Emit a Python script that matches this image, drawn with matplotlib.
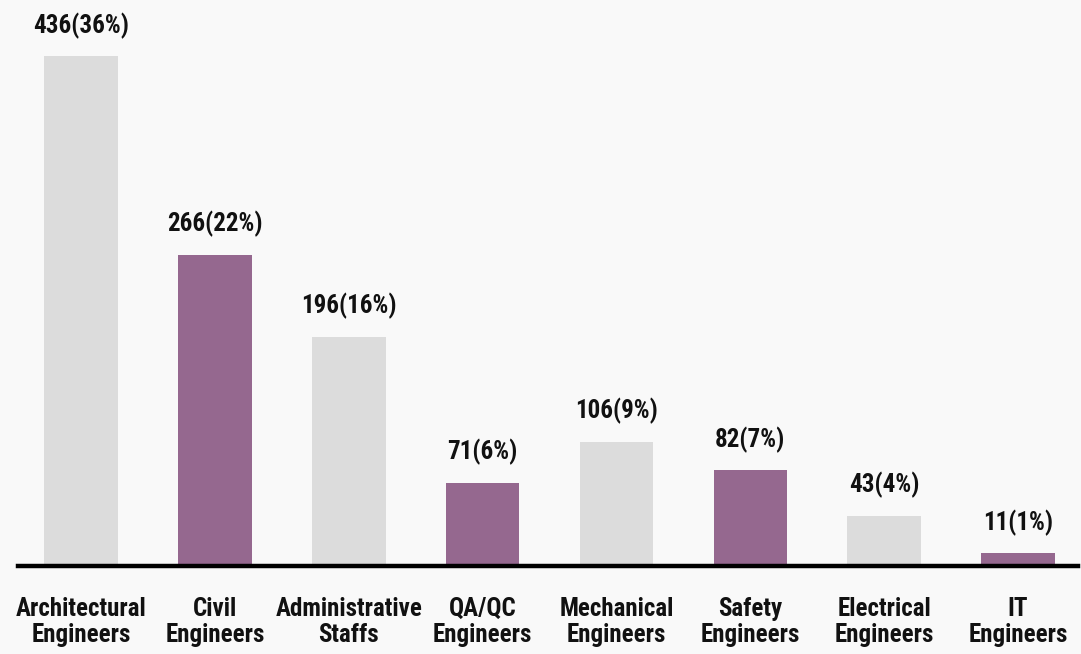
import matplotlib
matplotlib.use("Agg")
import matplotlib.pyplot as plt

categories = ["Architectural\nEngineers", "Civil\nEngineers", "Administrative\nStaffs",
              "QA/QC\nEngineers", "Mechanical\nEngineers", "Safety\nEngineers",
              "Electrical\nEngineers", "IT\nEngineers"]
counts = [436, 266, 196, 71, 106, 82, 43, 11]
percents = [36, 22, 16, 6, 9, 7, 4, 1]

GRAY = "#dcdcdc"
PURPLE = "#95688f"
BG = "#f9f9f9"
colors = [GRAY if i % 2 == 0 else PURPLE for i in range(len(counts))]

# narrow bold face, like the original
plt.rcParams["font.family"] = ["Liberation Sans Narrow", "Roboto Condensed", "DejaVu Sans"]
plt.rcParams["font.stretch"] = "condensed"

fig = plt.figure(figsize=(10.81, 6.54), dpi=100, facecolor=BG)
ax = fig.add_axes([0, 0.1346, 1, 0.8654])
ax.set_facecolor(BG)

x = list(range(len(counts)))
ax.bar(x, counts, width=0.55, color=colors, zorder=2)
for xi, c, p in zip(x, counts, percents):
    ax.text(xi, c + 15, f"{c}({p}%)", ha="center", va="bottom",
            fontsize=18, fontweight="bold", color="#111111")

ax.set_xlim(-0.605, 7.47)
ax.set_ylim(0, 484)
ax.axhline(0, xmin=0.017, xmax=0.997, color="black", lw=3.2, zorder=3, clip_on=False)

ax.set_xticks(x)
ax.set_xticklabels(categories, fontsize=18, fontweight="bold", color="#111111", linespacing=1.15)
ax.tick_params(axis="x", length=0, pad=22)
ax.set_yticks([])
for s in ax.spines.values():
    s.set_visible(False)

fig.savefig("out.png", dpi=100, facecolor=fig.get_facecolor())
